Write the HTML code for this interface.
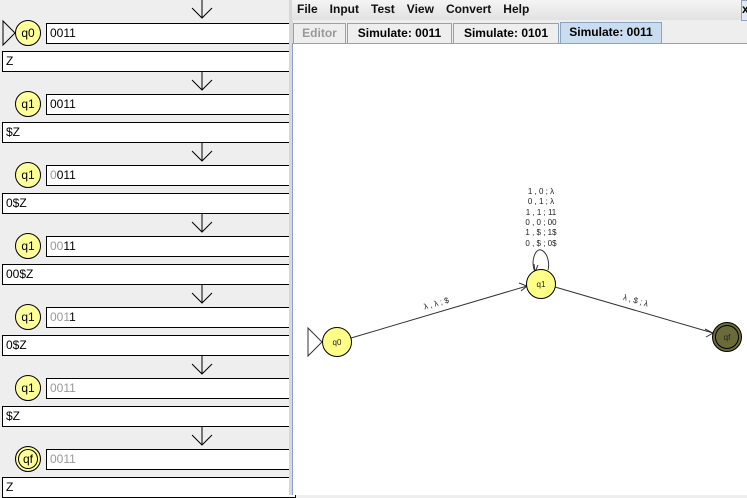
<!DOCTYPE html>
<html><head><style>
body{margin:0;width:747px;height:495px;overflow:hidden;background:#eeeeee;font-family:"Liberation Sans",sans-serif;position:relative}
.abs{position:absolute}
.box{position:absolute;background:#fff;border:1px solid #000;box-sizing:border-box;font-size:12px;line-height:18px;padding-left:3px}
.g{color:#999}
.st{position:absolute;width:26px;height:26px;border-radius:50%;background:#ffff99;border:1px solid #000;box-sizing:border-box;font-size:12px;text-align:center;line-height:24px}
.menu span{margin-right:12px}
.tab{position:absolute;top:23px;height:20px;border:1px solid #8ea3c2;border-bottom:none;box-sizing:border-box;font-size:12px;font-weight:bold;line-height:19px;text-align:center;background:#eeeeee}
</style></head><body>
<div class="abs" style="left:0;top:0;width:290px;height:495px;background:#eeeeee"></div>
<svg class="abs" style="left:0;top:0" width="290" height="495">
<g stroke="#000" fill="none" stroke-width="1">
<path d="M202 0V18M192 8L202 18L212 8"/>
<path d="M202 72V90M192 80L202 90L212 80"/>
<path d="M202 143V161M192 151L202 161L212 151"/>
<path d="M202 214V232M192 222L202 232L212 222"/>
<path d="M202 285V303M192 293L202 303L212 293"/>
<path d="M202 356V374M192 364L202 374L212 364"/>
<path d="M202 427V445M192 435L202 445L212 435"/>
<path d="M3 21L15 33L3 45Z"/>
</g></svg>
<div class="st" style="left:15px;top:20px">q0</div><div class="box" style="left:46px;top:23px;width:250px;height:21px">0011</div><div class="box" style="left:2px;top:51px;width:294px;height:21px">Z</div>
<div class="st" style="left:15px;top:91px">q1</div><div class="box" style="left:46px;top:94px;width:250px;height:21px">0011</div><div class="box" style="left:2px;top:122px;width:294px;height:21px">$Z</div>
<div class="st" style="left:15px;top:162px">q1</div><div class="box" style="left:46px;top:165px;width:250px;height:21px"><span class="g">0</span>011</div><div class="box" style="left:2px;top:193px;width:294px;height:21px">0$Z</div>
<div class="st" style="left:15px;top:233px">q1</div><div class="box" style="left:46px;top:236px;width:250px;height:21px"><span class="g">00</span>11</div><div class="box" style="left:2px;top:264px;width:294px;height:21px">00$Z</div>
<div class="st" style="left:15px;top:304px">q1</div><div class="box" style="left:46px;top:307px;width:250px;height:21px"><span class="g">001</span>1</div><div class="box" style="left:2px;top:335px;width:294px;height:21px">0$Z</div>
<div class="st" style="left:15px;top:375px">q1</div><div class="box" style="left:46px;top:378px;width:250px;height:21px"><span class="g">0011</span></div><div class="box" style="left:2px;top:406px;width:294px;height:21px">$Z</div>
<div class="st" style="left:15px;top:446px;box-shadow:inset 0 0 0 2px #ffff99,inset 0 0 0 3px #000">qf</div><div class="box" style="left:46px;top:449px;width:250px;height:21px"><span class="g">0011</span></div><div class="box" style="left:2px;top:477px;width:294px;height:21px">Z</div>

<div class="abs" style="left:289px;top:0;width:4px;height:495px;background:#d8d8d8"></div>
<div class="abs" style="left:292px;top:0;width:455px;height:20px;background:linear-gradient(#f4f4f4,#e2e2e2)"></div>
<div class="abs menu" style="left:297px;top:2px;font-size:12px;font-weight:bold;color:#111"><span>File</span><span>Input</span><span>Test</span><span>View</span><span>Convert</span><span>Help</span></div>
<div class="abs" style="left:741px;top:0;width:8px;height:19px;border:1px solid #8ea3c2;background:#e4e8f0;font-size:12px;font-weight:bold;line-height:17px">x</div>
<div class="tab" style="left:293px;width:53px;color:#999;font-weight:bold">Editor</div>
<div class="tab" style="left:347px;width:105px">Simulate: 0011</div>
<div class="tab" style="left:453px;width:106px">Simulate: 0101</div>
<div class="tab" style="left:560px;width:102px;background:#c9dcf0;top:22px;height:21px">Simulate: 0011</div>
<div class="abs" style="left:292px;top:43px;width:455px;height:452px;background:#fff;border-top:1px solid #8ea3c2;border-left:1px solid #8ea3c2;box-sizing:border-box"></div>
<svg class="abs" style="left:0;top:0" width="747" height="495" font-family="Liberation Sans" font-size="8">
<g stroke="#333" fill="none" stroke-width="1">
<line x1="351" y1="338" x2="527" y2="286"/><path d="M519 283L527 286L521 291"/>
<line x1="555" y1="287" x2="713" y2="333"/><path d="M705 329L713 333L706 337"/>
<path d="M535 272C530 260 536 248 541 250C547 252 550 262 548 270"/><path d="M534 264L535 272L538 265"/>
<path d="M308 328L322 342L308 356Z"/>
</g>
<circle cx="337" cy="342" r="14.5" fill="#ffff88" stroke="#000"/>
<circle cx="541" cy="284" r="14.5" fill="#ffff88" stroke="#000"/>
<circle cx="727" cy="337" r="14.5" fill="#6b6b3a" stroke="#000"/>
<circle cx="727" cy="337" r="11.5" fill="none" stroke="#000"/>
<g fill="#222" text-anchor="middle">
<text x="337" y="345">q0</text><text x="541" y="287">q1</text><text x="727" y="340">qf</text>
<text x="541" y="194">1 , 0 ; λ</text>
<text x="541" y="204">0 , 1 ; λ</text>
<text x="541" y="215">1 , 1 ; 11</text>
<text x="541" y="225">0 , 0 ; 00</text>
<text x="541" y="235">1 , $ ; 1$</text>
<text x="541" y="246">0 , $ ; 0$</text>
<text x="437" y="306" transform="rotate(-16 437 306)">λ , λ ; $</text>
<text x="635" y="303" transform="rotate(16 635 303)">λ , $ ; λ</text>
</g></svg>
</body></html>
